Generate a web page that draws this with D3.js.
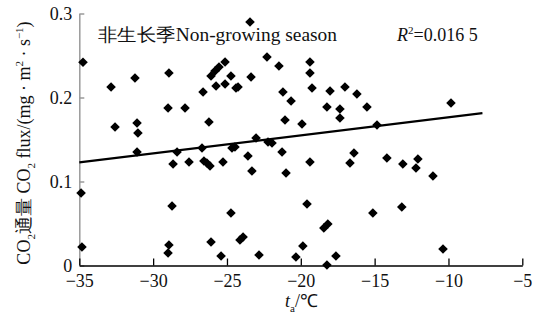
<!DOCTYPE html>
<html>
<head>
<meta charset="utf-8">
<script src="https://cdn.jsdelivr.net/npm/d3@7"></script>
<style>
  html, body { margin: 0; padding: 0; background: #fff; }
  #container { width: 543px; height: 322px; }
</style>
</head>
<body>
<div id="container"></div>
<script>
// air temperature (°C) of each point
let temps = [
  -34.75, -32.85, -31.23, -32.58, -31.09, -31.03, -31.09, -28.93, -28.99, -27.84,
  -26.62, -26.22, -26.08, -25.81, -25.54, -25.13, -24.73, -25.74, -25.13, -24.39,
  -24.25, -23.37, -23.44, -22.29, -21.48, -19.38, -19.38, -19.24, -21.21, -20.66,
  -21.07, -19.92, -18.02, -17.01, -16.20, -18.23, -17.35, -17.35, -15.52, -14.84,
  -9.83, -23.03, -22.22, -21.95, -28.38, -26.69, -28.65, -27.57, -26.56, -26.36,
  -26.15, -25.27, -24.66, -24.46, -23.58, -23.31, -21.27, -21.00, -19.38, -16.67,
  -16.40, -14.17, -13.09, -12.07, -12.20, -11.05, -34.88, -28.72, -24.73, -19.58,
  -15.12, -13.16, -34.82, -28.93, -28.99, -26.08, -25.40, -24.12, -23.91, -22.83,
  -20.33, -19.86, -18.44, -18.17, -17.62, -18.23, -10.37
];
// CO2 flux of each point
let fluxes = [
  0.242, 0.2125, 0.2232, 0.1649, 0.1696, 0.1577, 0.1351, 0.2292, 0.1875, 0.1875,
  0.2065, 0.1708, 0.2256, 0.2315, 0.2363, 0.2423, 0.2256, 0.2137, 0.2161, 0.2113,
  0.2125, 0.2244, 0.2899, 0.2482, 0.2375, 0.2423, 0.2292, 0.2113, 0.2065, 0.1958,
  0.1732, 0.1685, 0.2077, 0.2125, 0.2042, 0.1887, 0.1863, 0.1756, 0.1887, 0.1673,
  0.1935, 0.1518, 0.1470, 0.1458, 0.1351, 0.1399, 0.1208, 0.1232, 0.1244, 0.1220,
  0.1185, 0.1232, 0.1399, 0.1411, 0.1304, 0.1125, 0.1351, 0.1101, 0.1232, 0.1220,
  0.1339, 0.1280, 0.1208, 0.1268, 0.1160, 0.1065, 0.0863, 0.0708, 0.0625, 0.0732,
  0.0625, 0.0696, 0.0220, 0.0244, 0.0149, 0.0280, 0.0113, 0.0304, 0.0339, 0.0125,
  0.0101, 0.0232, 0.0446, 0.0494, 0.0113, 0.0006, 0.0196
];

let xTicks = [-35, -30, -25, -20, -15, -10, -5];
let yTicks = [0, 0.1, 0.2, 0.3];
let yTickLabels = ['0', '0.1', '0.2', '0.3'];

// linear fit drawn over this temperature range
let fitRange = [-35, -7.7];
let fitCoef = [0.198, 0.00215]; // intercept, slope

let w = 543,
    h = 322;
let margin = {top: 13.5, right: 20.7, bottom: 56.5, left: 79.3};

let serif = 'Liberation Serif';

let viz = d3.select('#container')
    .append('svg')
      .attr('width', w)
      .attr('height', h)
      .style('background', '#fff')
;

function main() {
    let x = d3.scaleLinear().domain([-35, -5]).range([margin.left, w - margin.right]);
    let y = d3.scaleLinear().domain([0, 0.3]).range([h - margin.bottom, margin.top]);

    // y axis, gray
    let yAxis = viz.append('g')
        .attr('transform', 'translate(' + margin.left + ',0)')
        .call(d3.axisLeft(y)
            .tickValues(yTicks)
            .tickFormat((d, i) => yTickLabels[i])
            .tickSizeInner(-5)
            .tickSizeOuter(0)
            .tickPadding(7));
    yAxis.attr('font-family', null).style('font-family', serif).style('font-size', '18px');
    yAxis.select('.domain').attr('stroke', '#9a9a9a').attr('stroke-width', 1.5);
    yAxis.selectAll('.tick line').attr('stroke', '#9a9a9a').attr('stroke-width', 1.5);
    yAxis.selectAll('.tick text').attr('fill', '#111');

    // x axis, black
    let xAxis = viz.append('g')
        .attr('transform', 'translate(0,' + (h - margin.bottom) + ')')
        .call(d3.axisBottom(x)
            .tickValues(xTicks)
            .tickSizeInner(-7)
            .tickSizeOuter(0)
            .tickPadding(9));
    xAxis.attr('font-family', null).style('font-family', serif).style('font-size', '18px');
    xAxis.select('.domain').attr('stroke', '#000').attr('stroke-width', 1.5);
    xAxis.selectAll('.tick line').attr('stroke', '#000').attr('stroke-width', 1.3);
    xAxis.selectAll('.tick text').attr('fill', '#111');

    // fit line
    let line = d3.line()
        .x(d => x(d))
        .y(d => y(fitCoef[0] + fitCoef[1] * d));
    viz.append('path')
        .datum(fitRange)
        .attr('d', line)
        .attr('fill', 'none')
        .attr('stroke', '#000')
        .attr('stroke-width', 2.2);

    // points
    let pts = temps.map((t, i) => ({t: t, f: fluxes[i]}));
    let diamond = d3.symbol().type(d3.symbolSquare).size(46);
    viz.append('g')
        .selectAll('path')
        .data(pts)
        .join('path')
          .attr('d', diamond)
          .attr('transform', d => 'translate(' + x(d.t) + ',' + y(d.f) + ') rotate(45)')
          .attr('fill', '#000');

    // texts
    viz.append('text')
        .attr('x', 98)
        .attr('y', 41)
        .style('font-family', serif)
        .style('font-size', '18px')
        .attr('textLength', 239)
        .attr('lengthAdjust', 'spacingAndGlyphs')
        .attr('fill', '#111')
        .text('非生长季Non-growing season');

    let r2 = viz.append('text')
        .attr('x', 397)
        .attr('y', 41)
        .style('font-family', serif)
        .style('font-size', '18px')
        .attr('fill', '#111');
    r2.append('tspan').style('font-style', 'italic').text('R');
    r2.append('tspan').style('font-size', '11px').attr('dy', -7).text('2');
    r2.append('tspan').attr('dy', 7).text('=0.016 5');

    // x label
    let xl = viz.append('text')
        .attr('x', 285)
        .attr('y', 307)
        .style('font-family', serif)
        .style('font-size', '18px')
        .attr('fill', '#111');
    xl.append('tspan').style('font-style', 'italic').text('t');
    xl.append('tspan').style('font-size', '11px').attr('dy', 5).text('a');
    xl.append('tspan').attr('dy', -5).text('/℃');

    // y label
    let yl = viz.append('text')
        .attr('transform', 'translate(30,143) rotate(-90)')
        .attr('text-anchor', 'middle')
        .style('font-family', serif)
        .style('font-size', '18px')
        .attr('fill', '#111');
    yl.append('tspan').text('CO');
    yl.append('tspan').style('font-size', '11px').attr('dy', 5).text('2');
    yl.append('tspan').attr('dy', -5).text('通量 CO');
    yl.append('tspan').style('font-size', '11px').attr('dy', 5).text('2');
    yl.append('tspan').attr('dy', -5).text(' flux/(mg · m');
    yl.append('tspan').style('font-size', '11px').attr('dy', -7).text('2');
    yl.append('tspan').attr('dy', 7).text(' · s');
    yl.append('tspan').style('font-size', '11px').attr('dy', -7).text('−1');
    yl.append('tspan').attr('dy', 7).text(')');
}

main();
</script>
</body>
</html>
